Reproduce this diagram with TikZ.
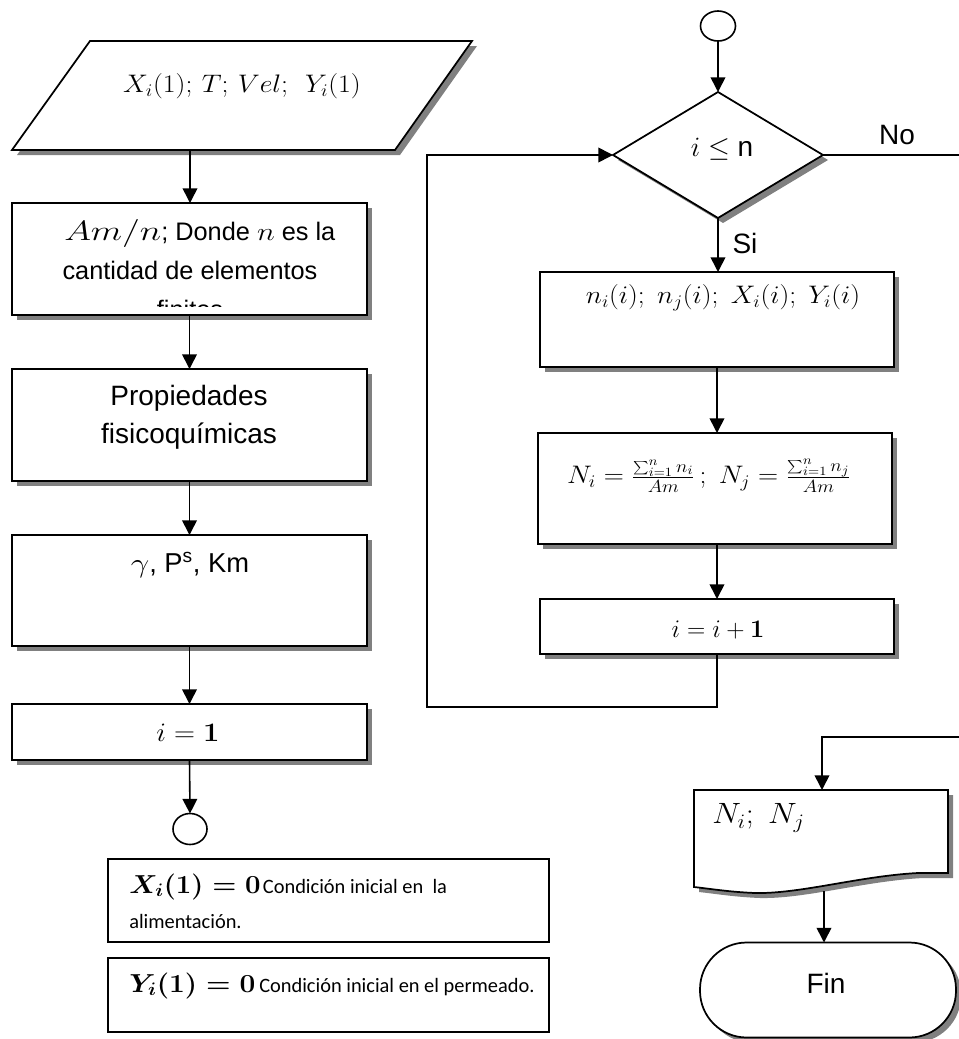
\RequirePackage{fix-cm}
\documentclass[tikz,border=0pt]{standalone}
\usepackage{graphicx}
\usepackage[no-math]{fontspec}
\setmainfont{Liberation Sans}
\newfontfamily\calfont{Carlito}
\usetikzlibrary{arrows.meta,shapes.geometric,shadows}
\newcommand{\hsm}[2]{\scalebox{#1}[1]{$#2$}}
\begin{document}
\begin{tikzpicture}[x=0.75pt,y=-0.75pt,
  shp/.style={draw=black, fill=white, line width=1.3pt,
    drop shadow={shadow xshift=3.75pt, shadow yshift=-3.75pt, fill=black!50, opacity=1}},
  box/.style={shp, rectangle, inner sep=0pt, outer sep=0pt},
  plainbox/.style={draw=black, fill=white, line width=1.3pt, rectangle, inner sep=0pt, outer sep=0pt},
  circ/.style={draw=black, fill=white, line width=1.2pt, ellipse, inner sep=0pt, outer sep=0pt},
  sz/.style 2 args={minimum width=#1*0.75pt, minimum height=#2*0.75pt},
  arr/.style={line width=1.2pt, -{Triangle[length=11pt,width=11pt]}},
  con/.style={line width=1.2pt},
  btxt/.style={font=\fontsize{19}{22}\selectfont, inner sep=0pt},
  bigtxt/.style={font=\fontsize{21}{24}\selectfont, inner sep=0pt},
  mtxt/.style={font=\fontsize{19}{22}\selectfont, inner sep=0pt},
  ltxt/.style={font=\fontsize{21}{24}\selectfont, inner sep=0pt},
  ctxt/.style={font=\fontsize{15.3}{18}\calfont, inner sep=0pt},
]
\useasboundingbox (0,0) rectangle (959,1039);

% ---------- left column ----------
\path[shp] (90,41) -- (472,41) -- (395,150) -- (12,150) -- cycle;
\coordinate (pbot) at (190,150);
\node[mtxt] (t0) at (242,86) {\hsm{1.1}{X_i(1);\,T;\,Vel;\;\,Y_i(1)}};

\node[box, sz={355}{112}] (b1) at (189.5,259) {};
\node[btxt, anchor=base west] (t1a) at (64,240) {{\fontsize{21}{22}\selectfont\hsm{1.3}{Am/n}}; Donde \hsm{1.2}{n} es la};
\node[btxt, anchor=base] (t1b) at (190,279) {cantidad de elementos};
\begin{scope}
  \clip (12,203) rectangle (367,306);
  \node[btxt, anchor=base] (t1c) at (190,318) {finitos};
\end{scope}

\node[box, sz={355}{112}] (b2) at (189.5,425) {};
\node[bigtxt, anchor=base] (t2a) at (189,405) {Propiedades};
\node[bigtxt, anchor=base] (t2b) at (189,443) {fisicoquímicas};

\node[box, sz={355}{111}] (b3) at (189.5,590.5) {};
\node[bigtxt, anchor=base, font=\fontsize{20.5}{24}\selectfont] (t3) at (190,572) {\hsm{1.2}{\gamma}, P\textsuperscript{s}, Km};

\node[box, sz={355}{56}] (b4) at (189.5,732) {};
\node[mtxt, font=\fontsize{20}{22}\selectfont] (t4) at (188,733) {\hsm{1.09}{i = \mathbf{1}}};

\node[circ, sz={34}{31}] (c1) at (190,829) {};

\draw[arr] (pbot) -- (pbot |- b1.north);
\draw[arr] (b1.south) -- (b2.north);
\draw[arr] (b2.south) -- (b3.north);
\draw[arr] (b3.south) -- (b4.north);
\draw[arr] (b4.south) -- (c1.north);

% ---------- initial conditions ----------
\node[plainbox, sz={441}{83}] (cb1) at (328.5,900.5) {};
\node[anchor=base west, inner sep=0pt] (ct1) at (129,893)
  {{\fontsize{19.5}{22}\selectfont\boldmath\hsm{1.06}{X_i(1) = 0}}\,{\fontsize{15.3}{18}\calfont Condición inicial en\ \ la}};
\node[ctxt, anchor=base west] (ct2) at (129,928) {alimentación.};
\node[plainbox, sz={441}{74}] (cb2) at (328.5,995) {};
\node[anchor=base west, inner sep=0pt] (ct3) at (129,992)
  {{\fontsize{19.5}{22}\selectfont\boldmath\hsm{1.08}{Y_i(1) = 0}}\ {\fontsize{15.3}{18}\calfont Condición inicial en el permeado.}};

% ---------- right column ----------
\node[circ, sz={35}{30}] (c2) at (718,26) {};
\node[shp, diamond, inner sep=0pt, outer sep=0pt, sz={210}{126}] (dia) at (718,155) {};
\node[ltxt] (tdia) at (722,149) {$i \leq$ n};
\node[ltxt] (lno) at (897,135) {No};
\node[ltxt] (lsi) at (745,243) {Si};

\node[box, sz={354}{95}] (b5) at (717,319.5) {};
\node[mtxt] (t5) at (723,298) {\hsm{1.09}{n_i(i);\; n_j(i);\; X_i(i);\; Y_i(i)}};

\node[box, sz={354}{111}] (b6) at (715,488.5) {};
\node[mtxt] (t6) at (709,476) {\hsm{1.1}{N_i = \frac{\sum_{i=1}^{n} n_i}{Am}\,;\; N_j = \frac{\sum_{i=1}^{n} n_j}{Am}}};

\node[box, sz={354}{55}] (b7) at (717,626.5) {};
\node[mtxt] (t7) at (718,630) {$i = i + \mathbf{1}$};

\draw[arr] (c2.south) -- (dia.north);
\draw[arr] (dia.south) -- (dia.south |- b5.north);
\draw[arr] (b5.south) -- (b5.south |- b6.north);
\draw[arr] (b6.south -| b7.south) -- (b7.north);

\coordinate (lp2) at (427,707);
\draw[arr] (b7.south) |- (lp2) |- (dia.west);

\coordinate (noR) at (959,155);
\draw[con] (dia.east) -- (noR);

% ---------- output ----------
\path[shp] (694,790) -- (948,790) -- (948,873) -- (918,873)
  .. controls (860,876) and (800,894) .. (755,893)
  .. controls (730,892) and (712,889) .. (694,887) -- cycle;
\coordinate (doctop) at (822,790);
\coordinate (docbot) at (824,891);
\node[mtxt, anchor=west, font=\fontsize{22}{24}\selectfont] (t8) at (712,818) {\hsm{1.1}{N_i;\; N_j}};

\coordinate (retR) at (959,737);
\draw[arr] (retR) -| (doctop);

\node[shp, rectangle, rounded corners=35pt, inner sep=0pt, outer sep=0pt, sz={256}{95}] (fin) at (828,990) {};
\node[ltxt] (tfin) at (826,983) {Fin};
\draw[arr] (docbot) -- (docbot |- fin.north);
\end{tikzpicture}
\end{document}
